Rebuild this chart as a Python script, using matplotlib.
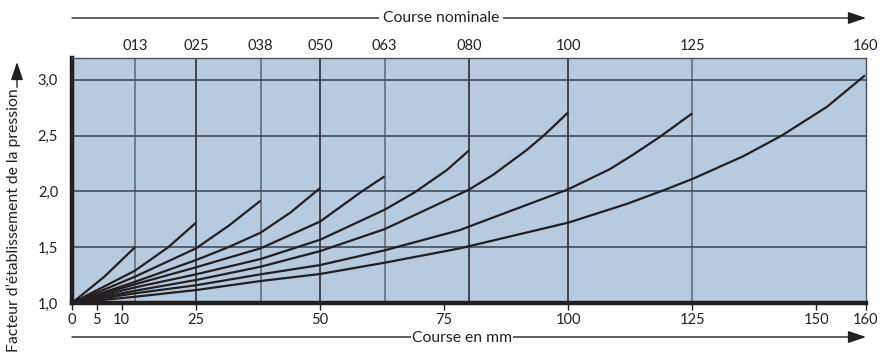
import matplotlib
matplotlib.use("Agg")
import matplotlib.pyplot as plt

plt.rcParams['font.family'] = ['Lato', 'DejaVu Sans']

# nominal strokes (top axis) and bottom ticks
strokes = [12.7, 25, 38, 50, 63, 80, 100, 125, 160]
stroke_labels = ['013', '025', '038', '050', '063', '080', '100', '125', '160']
x_ticks = [0, 5, 10, 25, 50, 75, 100, 125, 150, 160]
y_ticks = [1.0, 1.5, 2.0, 2.5, 3.0]
y_labels = ['1,0', '1,5', '2,0', '2,5', '3,0']

# curves (course in mm -> pressure factor)
x_013 = [0, 6.5, 12.7]
y_013 = [1.0, 1.235, 1.5]
x_025 = [0, 12.7, 19.4, 25]
y_025 = [1.0, 1.29, 1.5, 1.72]
x_038 = [0, 12.7, 25, 31.5, 38]
y_038 = [1.0, 1.236, 1.49, 1.69, 1.917]
x_050 = [0, 12.7, 25, 31.5, 38, 44, 50]
y_050 = [1.0, 1.19, 1.385, 1.5, 1.63, 1.81, 2.03]
x_063 = [0, 12.7, 25, 38, 50, 58.4, 63]
y_063 = [1.0, 1.168, 1.32, 1.49, 1.73, 2.0, 2.135]
x_080 = [0, 12.7, 25, 38, 50, 63, 69, 75.5, 80]
y_080 = [1.0, 1.14, 1.257, 1.394, 1.567, 1.836, 1.99, 2.19, 2.367]
x_100 = [0, 12.7, 25, 38, 50, 63, 80, 84.9, 91.6, 95.3, 100]
y_100 = [1.0, 1.11, 1.206, 1.325, 1.465, 1.662, 2.016, 2.15, 2.37, 2.51, 2.709]
x_125 = [0, 12.7, 25, 38, 50, 63, 78.2, 80, 100, 108.4, 113.1, 118.5, 125]
y_125 = [1.0, 1.087, 1.159, 1.257, 1.34, 1.472, 1.654, 1.685, 2.019, 2.20, 2.33, 2.49, 2.70]
x_160 = [0, 12.7, 25, 38, 50, 63, 78.2, 100, 111.8, 119.2, 125, 135.3, 143, 152.1, 159.8]
y_160 = [1.0, 1.056, 1.116, 1.197, 1.26, 1.361, 1.49, 1.72, 1.888, 2.01, 2.111, 2.316, 2.5,
         2.757, 3.04]

curves = [(x_013, y_013), (x_025, y_025), (x_038, y_038), (x_050, y_050),
          (x_063, y_063), (x_080, y_080), (x_100, y_100), (x_125, y_125),
          (x_160, y_160)]

W, H = 892, 356
ink = '#231f20'

fig = plt.figure(figsize=(W / 100, H / 100), dpi=100)
ax = fig.add_axes([72 / W, (H - 303) / H, (866 - 72) / W, (303 - 57.5) / H])
ax.set_facecolor('#b7cbe0')
ax.set_xlim(0, 160)
ax.set_ylim(1.0, 3.2)

# grid
dark_lines = [25, 50, 80, 100]
for s in strokes[:-1]:
    col = ink if s in dark_lines else '#5c6470'
    ax.axvline(s, color=col, lw=1.1, zorder=1)
for yv in y_ticks[1:]:
    ax.axhline(yv, color='#3c424c', lw=1.1, zorder=1)

for xs, ys in curves:
    ax.plot(xs, ys, color=ink, lw=1.6, zorder=3, solid_capstyle='butt',
            solid_joinstyle='round')

for side in ['left', 'bottom']:
    ax.spines[side].set_linewidth(3.2)
    ax.spines[side].set_color(ink)
for side in ['top', 'right']:
    ax.spines[side].set_linewidth(1.0)
    ax.spines[side].set_color('#4a4f58')

ax.set_xticks(x_ticks)
ax.set_xticklabels([str(v) for v in x_ticks])
ax.set_yticks(y_ticks)
ax.set_yticklabels(y_labels)
ax.tick_params(axis='x', length=5, width=1, color=ink, pad=2, labelsize=10.5, labelcolor=ink)
ax.tick_params(axis='y', length=0, pad=10, labelsize=10.5, labelcolor=ink)

top = ax.secondary_xaxis('top')
top.set_xticks(strokes)
top.set_xticklabels(stroke_labels)
top.tick_params(length=0, pad=3, labelsize=10.5, labelcolor=ink)
top.spines['top'].set_visible(False)

def fx(px):
    return px / W

def fy(py):
    return 1 - py / H

arrow = dict(arrowstyle='-|>,head_length=1.0,head_width=0.34', color=ink, lw=1.0,
             mutation_scale=11, shrinkA=0, shrinkB=0)

# top arrow "Course nominale"
ax.annotate('', xy=(866, H - 18), xytext=(72, H - 18), xycoords='figure pixels',
            textcoords='figure pixels', arrowprops=arrow, annotation_clip=False)
fig.text(fx(441), fy(18), 'Course nominale', ha='center', va='center', fontsize=11.3,
         color=ink, bbox=dict(facecolor='white', edgecolor='none', pad=3))

# bottom arrow "Course en mm"
ax.annotate('', xy=(866, H - 337), xytext=(72, H - 337), xycoords='figure pixels',
            textcoords='figure pixels', arrowprops=arrow, annotation_clip=False)
fig.text(fx(462), fy(338), 'Course en mm', ha='center', va='center', fontsize=11.3,
         color=ink, bbox=dict(facecolor='white', edgecolor='none', pad=0.5))

# vertical label with arrow
ylab = fig.text(fx(14), fy(352), "Facteur d\u2019\u00e9tablissement de la pression",
                rotation=90, ha='center', va='bottom', fontsize=11.3, color=ink)
fig.canvas.draw()
bb = ylab.get_window_extent()
ax.annotate('', xy=(17, H - 62), xytext=(17, bb.y1 + 1), xycoords='figure pixels',
            textcoords='figure pixels', arrowprops=arrow, annotation_clip=False)

fig.savefig('out.png', dpi=100, facecolor='white')
